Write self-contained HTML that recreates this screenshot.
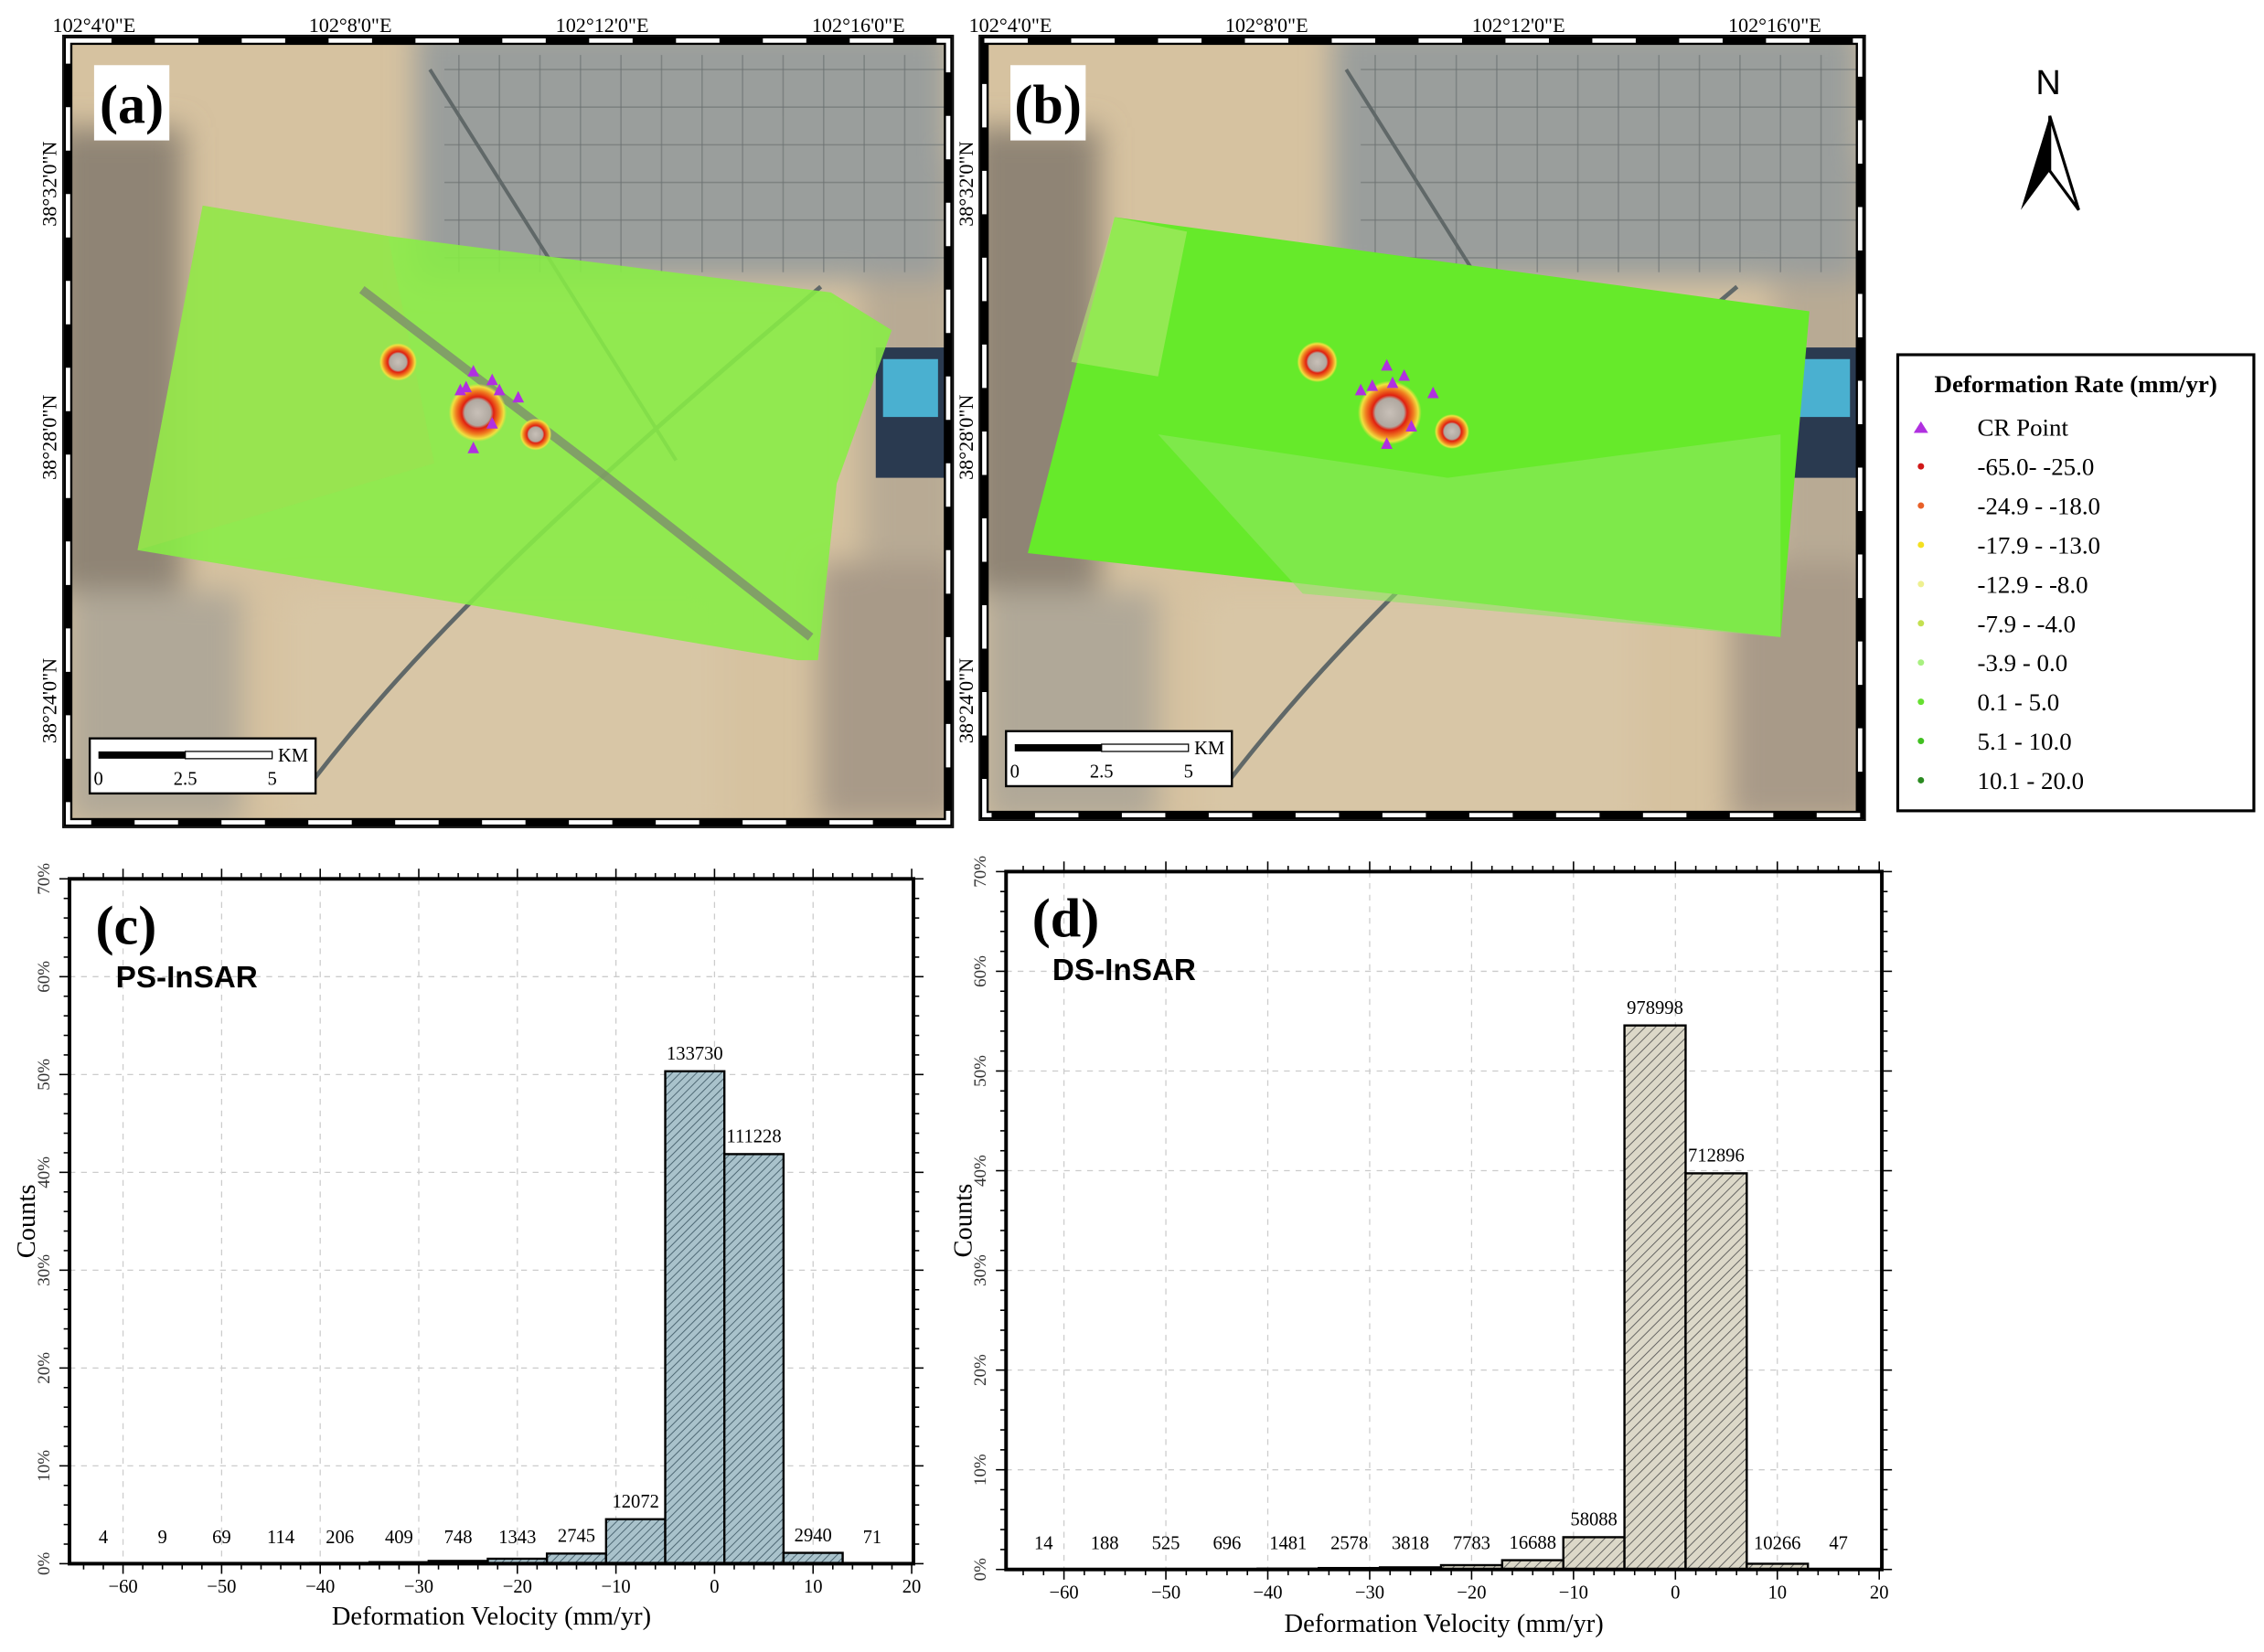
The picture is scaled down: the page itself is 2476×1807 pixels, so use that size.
<!DOCTYPE html>
<html><head><meta charset="utf-8"><style>
html,body{margin:0;padding:0;background:#fff;}
svg{display:block;}
</style></head><body>
<svg id="s" width="2476" height="1807" viewBox="0 0 1564 1141" preserveAspectRatio="none" xmlns="http://www.w3.org/2000/svg" font-family="Liberation Serif, serif">
<defs>
<pattern id="hc" width="4" height="4" patternUnits="userSpaceOnUse" patternTransform="rotate(45)">
<rect width="4" height="4" fill="#a9c2cb"/><line x1="0" y1="0" x2="0" y2="4" stroke="#4a6470" stroke-width="1.2"/></pattern>
<pattern id="hd" width="5" height="5" patternUnits="userSpaceOnUse" patternTransform="rotate(45)">
<rect width="5" height="5" fill="#dcd8c8"/><line x1="0" y1="0" x2="0" y2="5" stroke="#555" stroke-width="1.1"/></pattern>
<radialGradient id="blob"><stop offset="0" stop-color="#c8c0b8"/><stop offset="0.45" stop-color="#b0a8a0"/><stop offset="0.55" stop-color="#e02010"/><stop offset="0.75" stop-color="#f08020"/><stop offset="0.9" stop-color="#f0e040"/><stop offset="1" stop-color="#f0e040" stop-opacity="0"/></radialGradient>
<filter id="bl"><feGaussianBlur stdDeviation="10"/></filter>
<clipPath id="ca"><rect x="47" y="28" width="608" height="540"/></clipPath>
<clipPath id="cb"><rect x="680" y="28" width="605" height="535"/></clipPath>
</defs>
<g id="root"></g>
</svg>
<script>
const R=document.getElementById('root');let h='';
function map(ox,x0,y0,w,hh,isB,label){
 const cid=isB?'cb':'ca';
 h+=`<g clip-path="url(#${cid})">`;
 h+=`<rect x="${x0}" y="${y0}" width="${w}" height="${hh}" fill="#d6c2a0"/>`;
 h+=`<g filter="url(#bl)">`;
 h+=`<rect x="${x0-10}" y="${y0+60}" width="${90}" height="320" fill="#8f8474"/>`;
 h+=`<rect x="${x0+w-60}" y="${y0+80}" width="70" height="330" fill="#b8aa94"/>`;
 h+=`<rect x="${x0+240}" y="${y0-10}" width="${w-240}" height="175" fill="#9a9e9c"/>`;
 h+=`<rect x="${x0}" y="${y0+380}" width="120" height="160" fill="#b0a898"/>`;
 h+=`<rect x="${x0+w-90}" y="${y0+360}" width="100" height="180" fill="#a89a88"/>`;
 h+=`<rect x="${x0+150}" y="${y0+380}" width="300" height="170" fill="#d8c6a6"/>`;
 h+=`</g>`;
 for(let i=0;i<12;i++){h+=`<line x1="${x0+270+i*28}" y1="${y0+10}" x2="${x0+270+i*28}" y2="${y0+160}" stroke="#6c7272" stroke-width="1" opacity="0.6"/>`;}
 for(let j=0;j<6;j++){h+=`<line x1="${x0+260}" y1="${y0+20+j*26}" x2="${x0+w}" y2="${y0+20+j*26}" stroke="#6c7272" stroke-width="1" opacity="0.6"/>`;}
 h+=`<rect x="${x0+w-50}" y="${y0+212}" width="48" height="90" fill="#2a3a50"/><rect x="${x0+w-45}" y="${y0+220}" width="38" height="40" fill="#4ab0d0"/>`;
 h+=`<path d="M${x0+170},${y0+510} C${x0+240},${y0+420} ${x0+330},${y0+330} ${x0+520},${y0+170}" stroke="#606868" stroke-width="3" fill="none"/>`;
 h+=`<path d="M${x0+250},${y0+20} L${x0+420},${y0+290}" stroke="#606868" stroke-width="2.5" fill="none"/>`;
 if(!isB){
  h+=`<polygon points="140,142 268,163 574,202 616,228 578,334 565,456 551,456 290,412 95,380" fill="#88ee44" opacity="0.88"/>`;
  h+=`<polygon points="140,142 268,163 300,320 95,380" fill="#a0e050" opacity="0.5"/>`;
  h+=`<path d="M250,200 L420,330 L560,440" stroke="#7a8070" stroke-width="6" fill="none" opacity="0.7"/>`;
 } else {
  h+=`<polygon points="770,150 1250,215 1230,440 710,382" fill="#66ea2a"/>`;
  h+=`<polygon points="800,300 1000,330 1230,300 1230,440 900,410" fill="#8ee860" opacity="0.6"/>`;
  h+=`<polygon points="770,150 820,160 800,260 740,250" fill="#b0e870" opacity="0.6"/>`;
 }
 const bl=isB?[[960,285,22],[910,250,14],[1003,298,12]]:[[330,285,20],[275,250,13],[370,300,11]];
 for(const b of bl)h+=`<circle cx="${b[0]}" cy="${b[1]}" r="${b[2]}" fill="url(#blob)"/>`;
 const tr=isB?[[958,253],[970,260],[948,267],[962,265],[990,272],[975,295],[958,307],[940,270]]:[[327,257],[340,263],[322,268],[345,270],[358,275],[340,293],[327,310],[318,270]];
 for(const t of tr)h+=`<polygon points="${t[0]},${t[1]-5} ${t[0]-4},${t[1]+3} ${t[0]+4},${t[1]+3}" fill="#b030e0"/>`;
 h+=`<rect x="${x0+18}" y="${y0+17}" width="52" height="52" fill="#fff"/><text x="${x0+44}" y="${y0+57}" font-size="38" font-weight="bold" text-anchor="middle">${label}</text>`;
 const sx=x0+15,sy=isB?y0+477:y0+482;
 h+=`<rect x="${sx}" y="${sy}" width="156" height="38" fill="#fff" stroke="#000" stroke-width="1.5"/>`;
 h+=`<rect x="${sx+6}" y="${sy+9}" width="60" height="5" fill="#000"/><rect x="${sx+66}" y="${sy+9}" width="60" height="5" fill="#fff" stroke="#000" stroke-width="0.8"/>`;
 h+=`<text x="${sx+130}" y="${sy+16}" font-size="13">KM</text><text x="${sx+6}" y="${sy+32}" font-size="13" text-anchor="middle">0</text><text x="${sx+66}" y="${sy+32}" font-size="13" text-anchor="middle">2.5</text><text x="${sx+126}" y="${sy+32}" font-size="13" text-anchor="middle">5</text>`;
 h+=`</g>`;
 h+=`<rect x="${x0}" y="${y0}" width="${w}" height="${hh}" fill="none" stroke="#000" stroke-width="6"/>`;
 h+=`<rect x="${x0}" y="${y0}" width="${w}" height="${hh}" fill="none" stroke="#fff" stroke-width="3" stroke-dasharray="30 30"/>`;
 h+=`<rect x="${x0-3.5}" y="${y0-3.5}" width="${w+7}" height="${hh+7}" fill="none" stroke="#000" stroke-width="1"/>`;
 const tl=['102°4\'0"E','102°8\'0"E','102°12\'0"E','102°16\'0"E'],tx=[65,242,416,593];
 tl.forEach((t,i)=>h+=`<text x="${tx[i]+ox}" y="22" font-size="14" text-anchor="middle">${t}</text>`);
 const ll=['38°32\'0"N','38°28\'0"N','38°24\'0"N'],ly=[127,302,484];
 ll.forEach((t,i)=>h+=`<text transform="translate(${x0-8},${ly[i]}) rotate(-90)" font-size="14" text-anchor="middle">${t}</text>`);
}
map(0,47,28,608,540,false,'(a)');
map(633,680,28,605,535,true,'(b)');
h+=`<text x="1415" y="65" font-family="Liberation Sans, sans-serif" font-size="24" text-anchor="middle">N</text>`;
h+=`<polygon points="1416,80 1396,145 1416,118" fill="#000"/><polygon points="1416,80 1436,145 1416,118" fill="#fff" stroke="#000" stroke-width="2"/>`;
h+=`<rect x="1311" y="245" width="246" height="315" fill="#fff" stroke="#000" stroke-width="2"/>`;
h+=`<text x="1434" y="271" font-size="17" font-weight="bold" text-anchor="middle">Deformation Rate (mm/yr)</text>`;
const li=[['CR Point','#b030e0'],['-65.0- -25.0','#d01818'],['-24.9 - -18.0','#e86028'],['-17.9 - -13.0','#f4e020'],['-12.9 - -8.0','#eef090'],['-7.9 - -4.0','#c4e050'],['-3.9 - 0.0','#a8f080'],['0.1 - 5.0','#66e030'],['5.1 - 10.0','#40c020'],['10.1 - 20.0','#2a8a20']];
li.forEach((l,i)=>{const y=298+i*27.1;
 if(i==0)h+=`<polygon points="1327,${y-7} 1322,${y+1} 1332,${y+1}" fill="${l[1]}"/>`;else h+=`<circle cx="1327" cy="${y-3}" r="2.2" fill="${l[1]}"/>`;
 h+=`<text x="1366" y="${y+3}" font-size="17">${l[0]}</text>`;});
function hist(L,T,Rr,B,xm,xb,counts,fill,tag,name,xlY){
 const X=v=>xb+(v+60)*xm;const ppp=(B-T)/70;const Y=p=>B-p*ppp;
 const tot=counts.reduce((a,b)=>a+b,0);
 for(let v=-60;v<=10;v+=10)h+=`<line x1="${X(v)}" y1="${T}" x2="${X(v)}" y2="${B}" stroke="#ccc" stroke-dasharray="4 4" stroke-width="0.8"/>`;
 for(let p=10;p<70;p+=10)h+=`<line x1="${L}" y1="${Y(p)}" x2="${Rr}" y2="${Y(p)}" stroke="#ccc" stroke-dasharray="4 4" stroke-width="0.8"/>`;
 counts.forEach((c,i)=>{const e0=-65+6*i,p=c/tot*100,y=Y(p);
  if(p>0.05)h+=`<rect x="${X(e0)}" y="${y}" width="${6*xm}" height="${B-y}" fill="url(#${fill})" stroke="#000" stroke-width="1.5"/>`;
  const ty=Math.min(y-8,B-14);
  h+=`<text x="${X(e0+3)}" y="${ty}" font-size="13" text-anchor="middle">${c}</text>`;});
 h+=`<rect x="${L}" y="${T}" width="${Rr-L}" height="${B-T}" fill="none" stroke="#000" stroke-width="2.5"/>`;
 for(let v=-64;v<=20;v+=2){const big=v%10==0;const x=X(v);if(x<L||x>Rr)continue;const tl=big?7:4;
  h+=`<line x1="${x}" y1="${B}" x2="${x}" y2="${B+tl}" stroke="#000"/><line x1="${x}" y1="${T}" x2="${x}" y2="${T-tl}" stroke="#000"/>`;
  if(big)h+=`<text x="${x}" y="${B+20}" font-size="13" text-anchor="middle">${v==0?'0':(v<0?'−'+(-v):v)}</text>`;}
 for(let p=0;p<=70;p+=2){const big=p%10==0;const y=Y(p);const tl=big?7:4;
  h+=`<line x1="${L}" y1="${y}" x2="${L-tl}" y2="${y}" stroke="#000"/><line x1="${Rr}" y1="${y}" x2="${Rr+tl}" y2="${y}" stroke="#000"/>`;
  if(big)h+=`<text transform="translate(${L-14},${y}) rotate(-90)" font-size="12" text-anchor="middle" fill="#333">${p}%</text>`;}
 h+=`<text transform="translate(${L-24},${(T+B)/2}) rotate(-90)" font-size="18" text-anchor="middle">Counts</text>`;
 h+=`<text x="${(L+Rr)/2}" y="${xlY}" font-size="18" text-anchor="middle">Deformation Velocity (mm/yr)</text>`;
 h+=`<text x="${L+18}" y="${T+45}" font-size="38" font-weight="bold">${tag}</text>`;
 h+=`<text x="${L+32}" y="${T+75}" font-size="21" font-weight="bold" font-family="Liberation Sans, sans-serif">${name}</text>`;
}
hist(48,607,631,1080,6.81,85,[4,9,69,114,206,409,748,1343,2745,12072,133730,111228,2940,71],'hc','(c)','PS-InSAR',1122);
hist(695,602,1300,1084,7.04,735,[14,188,525,696,1481,2578,3818,7783,16688,58088,978998,712896,10266,47],'hd','(d)','DS-InSAR',1127);
R.innerHTML=h;
</script>
</body></html>
